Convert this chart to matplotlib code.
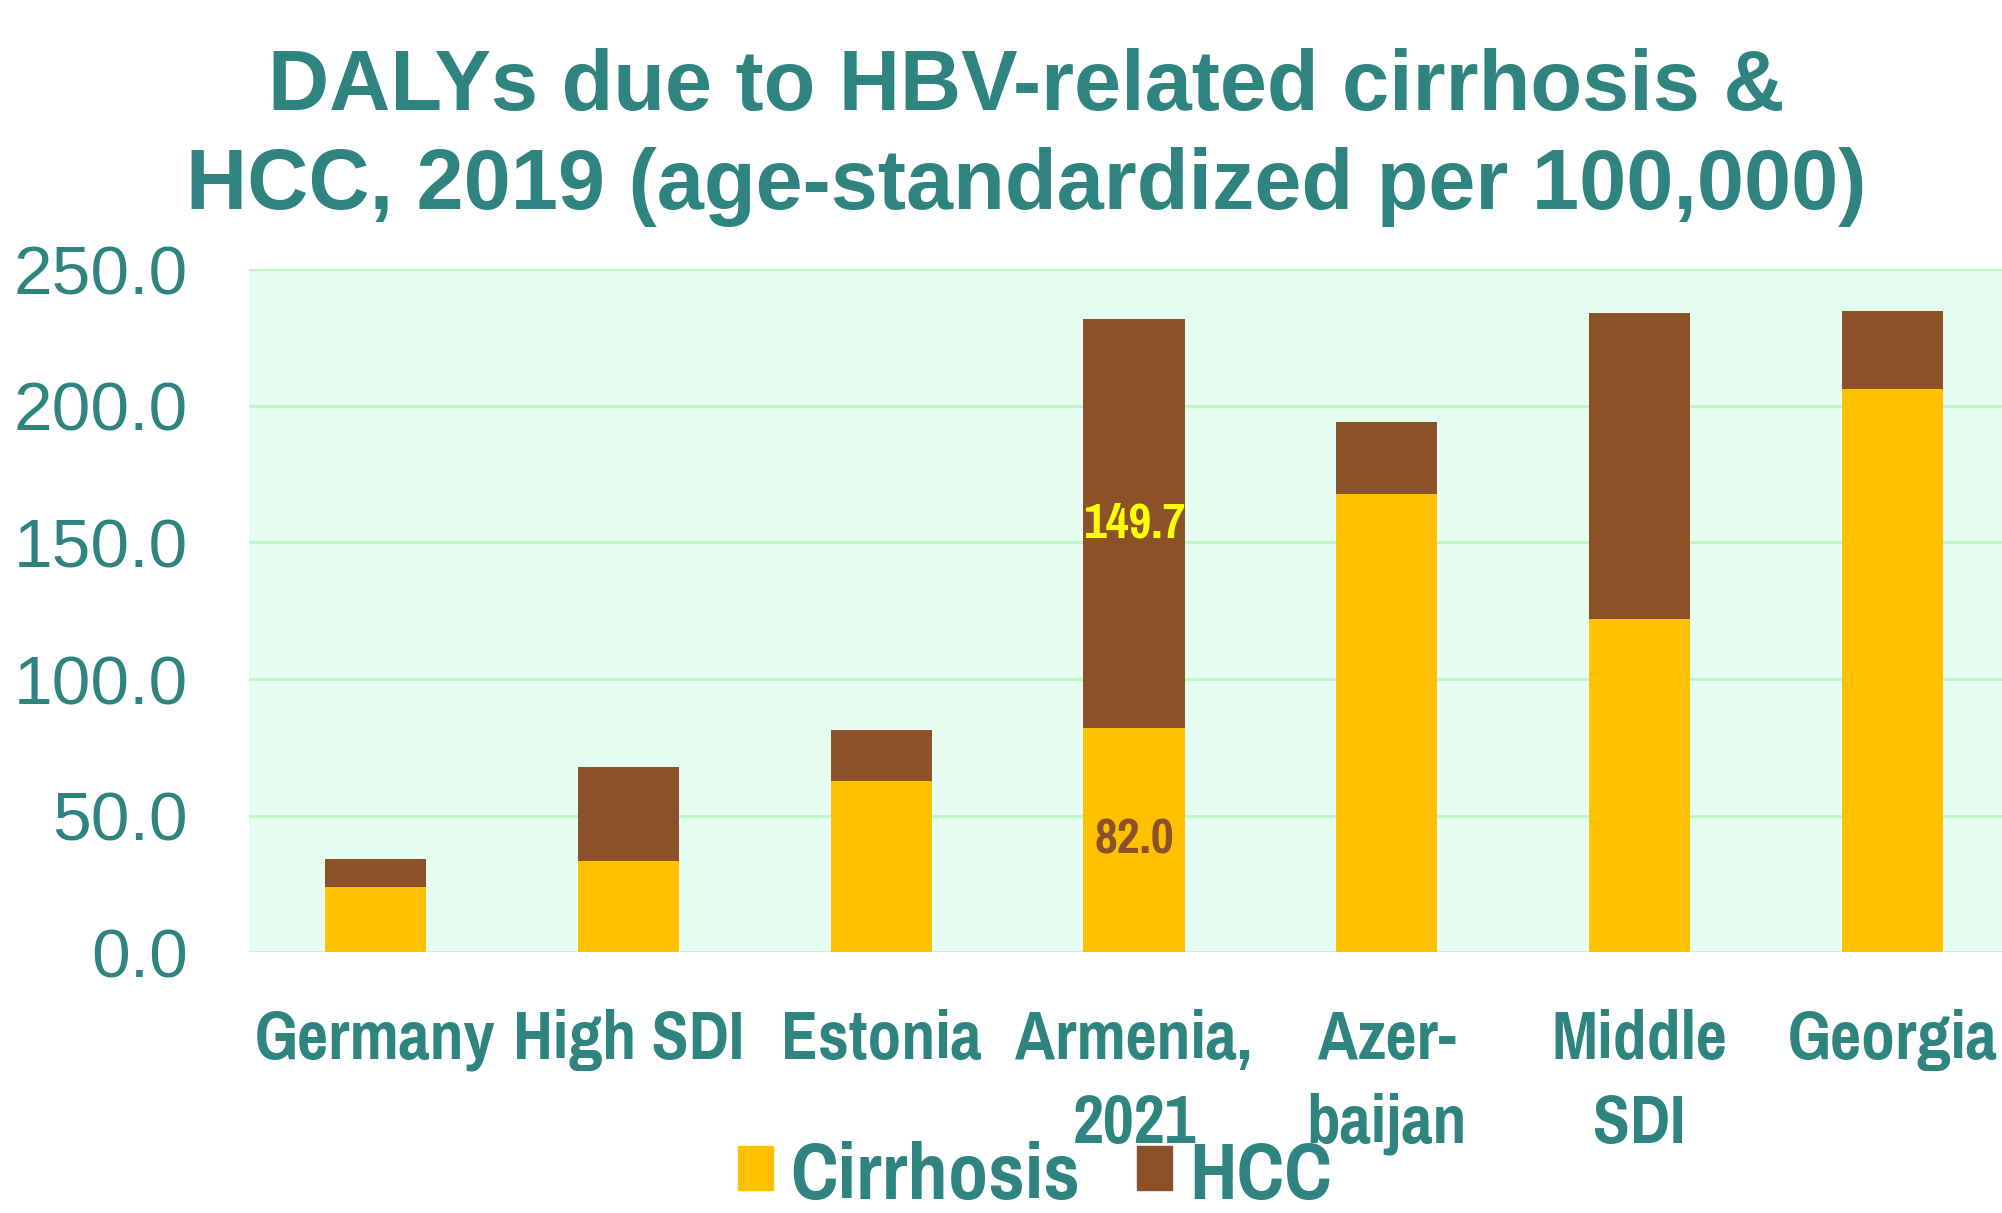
import numpy as np
import matplotlib
matplotlib.use("Agg")
import matplotlib.pyplot as plt
from matplotlib.patches import Patch

# データ
categories = ["Germany", "High SDI", "Estonia", "Armenia,\n2021", "Azer-\nbaijan", "Middle\nSDI", "Georgia"]
cirrhosis = [23.8, 33.6, 62.6, 82.0, 167.8, 122.0, 206.1]
hcc = [10.3, 34.2, 18.7, 149.7, 26.1, 112.1, 28.5]
y_ticks = [0, 50, 100, 150, 200, 250]

teal = "#2F8480"
yellow = "#FFC000"
brown = "#8B5129"
narrow = ["Pragati Narrow", "Roboto Condensed", "Archivo Narrow", "DejaVu Sans"]

fig = plt.figure(figsize=(20.02, 12.13), dpi=100)
ax = fig.add_axes([249 / 2002, 0.2148, 1770 / 2002, 0.5634])

x = np.arange(len(categories))
ax.bar(x, cirrhosis, width=0.4, color=yellow, zorder=3)
ax.bar(x, hcc, width=0.4, bottom=cirrhosis, color=brown, zorder=3)

# アルメニアのみ値ラベル
i = 3
ax.text(x[i], cirrhosis[i] / 2, "{:.1f}".format(cirrhosis[i]), ha="center", va="center",
        color=brown, fontsize=39, fontweight="bold", family=narrow, zorder=4)
ax.text(x[i], cirrhosis[i] + hcc[i] / 2, "{:.1f}".format(hcc[i]), ha="center", va="center",
        color="#FFFF00", fontsize=39, fontweight="bold", family=narrow, zorder=4)

ax.set_xlim(-0.5, len(categories) - 0.5)
ax.set_ylim(0, 250)
ax.set_facecolor("#E6FDF2")
ax.set_yticks(y_ticks)
ax.set_yticklabels(["{:.1f}".format(v) for v in y_ticks], fontsize=50, color=teal, family="Liberation Sans")
ax.set_xticks(x)
ax.set_xticklabels(categories, fontsize=53, color=teal, fontweight="bold", family=narrow, linespacing=1.43, va="top")
ax.tick_params(axis="both", length=0)
ax.tick_params(axis="y", pad=44)
ax.tick_params(axis="x", pad=41)
ax.grid(axis="y", color="#BDF7C3", linewidth=2, zorder=0)
for s in ax.spines.values():
    s.set_visible(False)

fig.text(0.5125, 0.8865, "DALYs due to HBV-related cirrhosis &\nHCC, 2019 (age-standardized per 100,000)",
         ha="center", va="center", fontsize=61, fontweight="bold", color=teal,
         family="Liberation Sans", linespacing=1.3)

handles = [Patch(color=yellow, label="Cirrhosis"), Patch(color=brown, label="HCC")]
leg = fig.legend(handles=handles, loc="lower center", bbox_to_anchor=(0.517, 0.0), ncol=2, frameon=False,
                 prop={"family": narrow, "weight": "bold", "size": 63},
                 handlelength=0.4, handleheight=0.4, handletextpad=0.2, columnspacing=0.64,
                 borderpad=0, borderaxespad=0)
for t in leg.get_texts():
    t.set_color(teal)

fig.savefig("out.png", dpi=100, facecolor="white")
